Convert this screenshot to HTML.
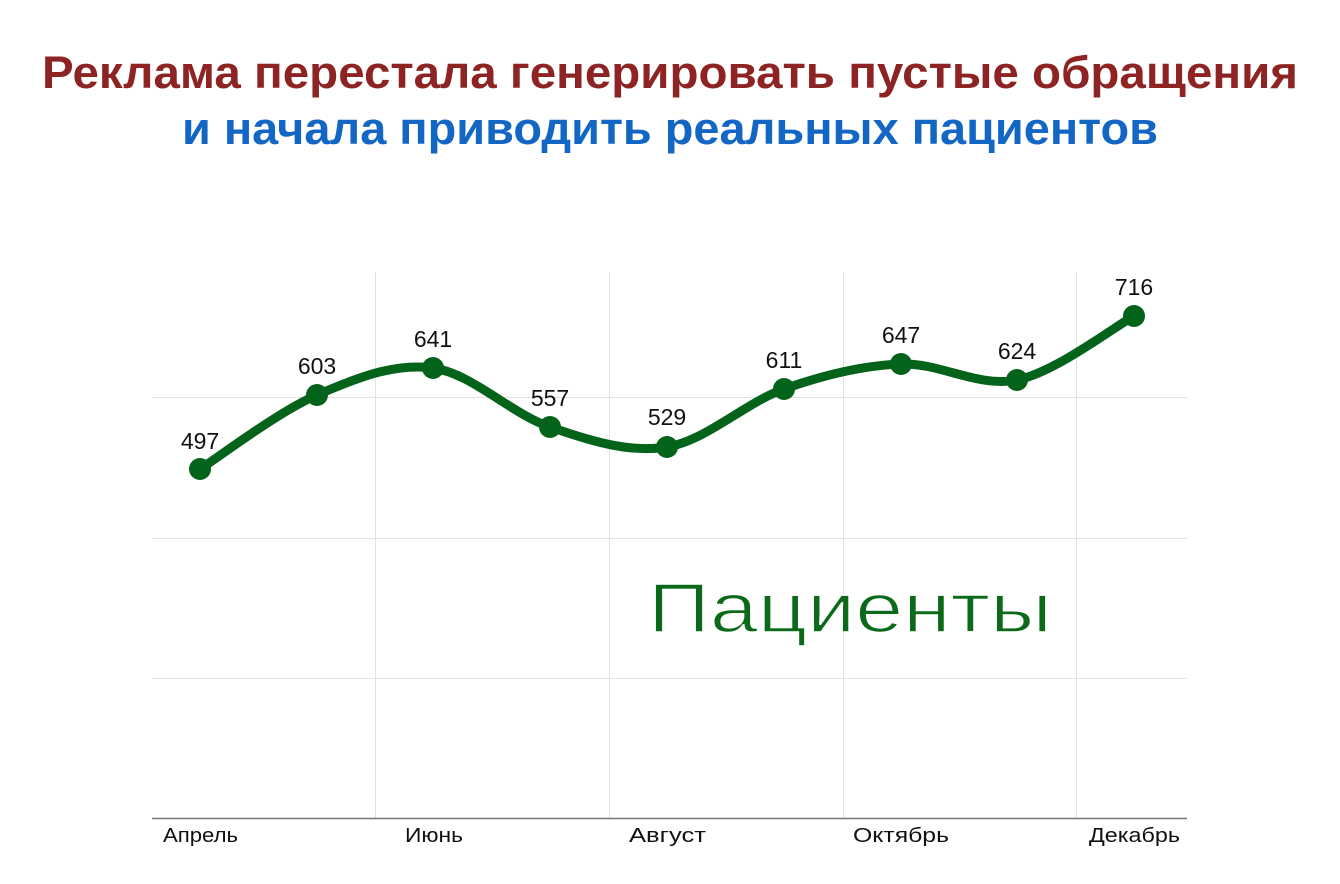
<!DOCTYPE html>
<html><head><meta charset="utf-8"><style>html,body{margin:0;padding:0;background:#fff}svg{display:block}</style></head>
<body>
<svg width="1340" height="884" viewBox="0 0 1340 884" xmlns="http://www.w3.org/2000/svg" font-family="'Liberation Sans', sans-serif">
<text x="42" y="88" font-size="45" font-weight="bold" fill="#8e2323" textLength="1256" lengthAdjust="spacingAndGlyphs">Реклама перестала генерировать пустые обращения</text>
<text x="182" y="144" font-size="45" font-weight="bold" fill="#1366c4" textLength="976" lengthAdjust="spacingAndGlyphs">и начала приводить реальных пациентов</text>
<g stroke="#e2e2e2" stroke-width="1">
<line x1="152" y1="397.5" x2="1187" y2="397.5"/>
<line x1="152" y1="538.5" x2="1187" y2="538.5"/>
<line x1="152" y1="678.5" x2="1187" y2="678.5"/>
<line x1="375.5" y1="272" x2="375.5" y2="818"/>
<line x1="609.5" y1="272" x2="609.5" y2="818"/>
<line x1="843.5" y1="272" x2="843.5" y2="818"/>
<line x1="1076.5" y1="272" x2="1076.5" y2="818"/>
</g>
<line x1="152" y1="818.5" x2="1187" y2="818.5" stroke="#77777e" stroke-width="1.5"/>
<g font-size="20" fill="#111">
<text x="163" y="842" textLength="75" lengthAdjust="spacingAndGlyphs">Апрель</text>
<text x="405" y="842" textLength="58" lengthAdjust="spacingAndGlyphs">Июнь</text>
<text x="629" y="842" textLength="77" lengthAdjust="spacingAndGlyphs">Август</text>
<text x="853" y="842" textLength="96" lengthAdjust="spacingAndGlyphs">Октябрь</text>
<text x="1089" y="842" textLength="91" lengthAdjust="spacingAndGlyphs">Декабрь</text>
</g>
<text x="648" y="632" font-size="70" fill="#0b6a1a" stroke="#fff" stroke-width="1.5" paint-order="normal" textLength="404" lengthAdjust="spacingAndGlyphs">Пациенты</text>
<path d="M200,469 C219.5,456.7 278.2,411.8 317,395 C355.8,378.2 394.2,362.7 433,368 C471.8,373.3 511,413.8 550,427 C589,440.2 628,453.3 667,447 C706,440.7 745,402.8 784,389 C823,375.2 862.2,365.5 901,364 C939.8,362.5 978.2,388 1017,380 C1055.8,372 1114.5,326.7 1134,316" fill="none" stroke="#04631a" stroke-width="9" stroke-linecap="round"/>
<g fill="#04631a">
<circle cx="200" cy="469" r="11"/><circle cx="317" cy="395" r="11"/><circle cx="433" cy="368" r="11"/>
<circle cx="550" cy="427" r="11"/><circle cx="667" cy="447" r="11"/><circle cx="784" cy="389" r="11"/>
<circle cx="901" cy="364" r="11"/><circle cx="1017" cy="380" r="11"/><circle cx="1134" cy="316" r="11"/>
</g>
<g font-size="23" fill="#111" text-anchor="middle">
<text x="200" y="449">497</text><text x="317" y="374">603</text><text x="433" y="347">641</text>
<text x="550" y="406">557</text><text x="667" y="425">529</text><text x="784" y="368">611</text>
<text x="901" y="343">647</text><text x="1017" y="359">624</text><text x="1134" y="295">716</text>
</g>
</svg>
</body></html>
